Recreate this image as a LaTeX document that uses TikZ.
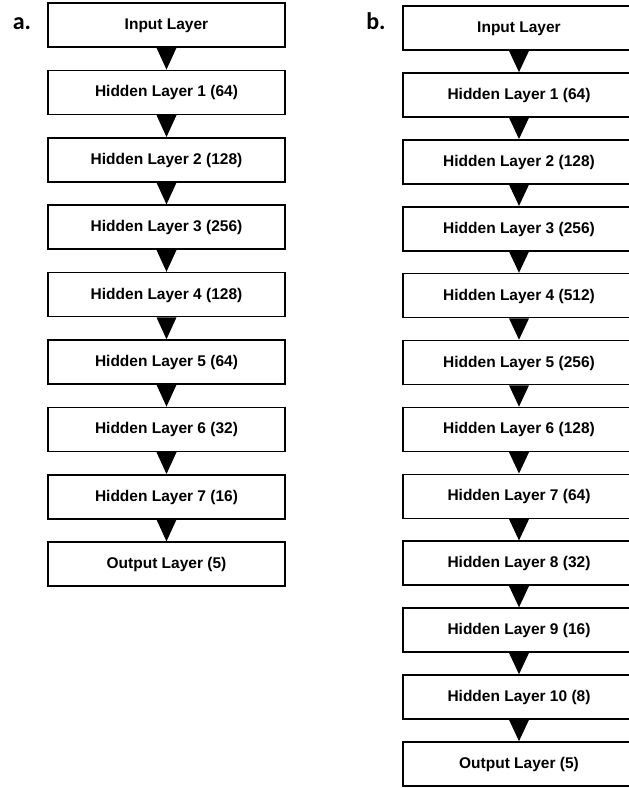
\documentclass[tikz,border=0pt]{standalone}
\usepackage{fontspec}
\setmainfont{Liberation Sans}
\newfontfamily\labfont{Carlito}
\begin{document}
\begin{tikzpicture}[x=1pt,y=-1pt,
  layerbox/.style={draw=black, line width=1.6pt, fill=white, minimum width=#1, minimum height=44pt, inner sep=0pt, text height=11pt, text depth=2pt, font=\fontsize{15.5}{18}\selectfont\bfseries},
  panellabel/.style={font=\labfont\fontsize{24}{28}\selectfont\bfseries, inner sep=0pt}]
\useasboundingbox (0,0) rectangle (629,788);
\clip (0,0) rectangle (629,788);
% panel a
\node[panellabel] (la) at (22,24) {a.};
\foreach \t [count=\i from 0] in {Input Layer, Hidden Layer 1 (64), Hidden Layer 2 (128), Hidden Layer 3 (256), Hidden Layer 4 (128), Hidden Layer 5 (64), Hidden Layer 6 (32), Hidden Layer 7 (16), Output Layer (5)}
  \node[layerbox=237pt] (a\i) at (166.5, 25+67.4*\i) {\t};
\foreach \i [evaluate=\i as \j using int(\i+1)] in {0,...,7}
  \fill (a\i.south) ++(-10,0) -- ++(20,0) -- (a\j.north) -- cycle;
% panel b
\node[panellabel] (lb) at (376,21) {b.};
\foreach \t [count=\i from 0] in {Input Layer, Hidden Layer 1 (64), Hidden Layer 2 (128), Hidden Layer 3 (256), Hidden Layer 4 (512), Hidden Layer 5 (256), Hidden Layer 6 (128), Hidden Layer 7 (64), Hidden Layer 8 (32), Hidden Layer 9 (16), Hidden Layer 10 (8), Output Layer (5)}
  \node[layerbox=232pt] (b\i) at (519, 28+66.9*\i) {\t};
\foreach \i [evaluate=\i as \j using int(\i+1)] in {0,...,10}
  \fill (b\i.south) ++(-10,0) -- ++(20,0) -- (b\j.north) -- cycle;
\end{tikzpicture}
\end{document}
